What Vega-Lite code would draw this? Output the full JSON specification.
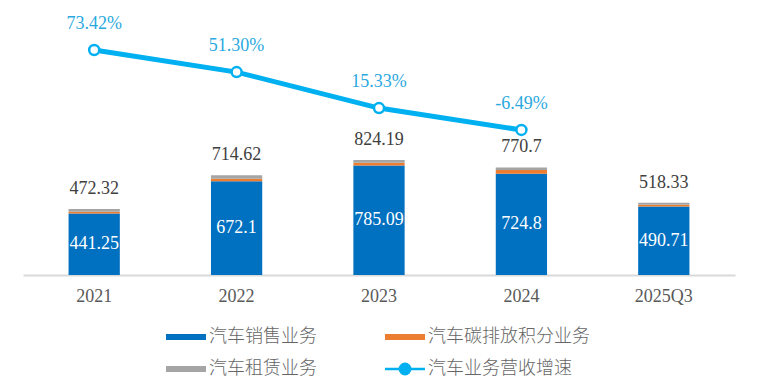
{
  "$schema": "https://vega.github.io/schema/vega-lite/v6.json",
  "width": 712,
  "height": 275,
  "padding": {"left": 23, "top": 0, "right": 24, "bottom": 10},
  "background": "white",
  "config": {"view": {"stroke": null}},
  "datasets": {
    "bars": [
      {"year": "2021", "series": "汽车销售业务", "k": 1, "value": 441.25},
      {"year": "2021", "series": "汽车碳排放积分业务", "k": 2, "value": 12.5},
      {"year": "2021", "series": "汽车租赁业务", "k": 3, "value": 18.57},
      {"year": "2022", "series": "汽车销售业务", "k": 1, "value": 672.1},
      {"year": "2022", "series": "汽车碳排放积分业务", "k": 2, "value": 18},
      {"year": "2022", "series": "汽车租赁业务", "k": 3, "value": 24.52},
      {"year": "2023", "series": "汽车销售业务", "k": 1, "value": 785.09},
      {"year": "2023", "series": "汽车碳排放积分业务", "k": 2, "value": 19.1},
      {"year": "2023", "series": "汽车租赁业务", "k": 3, "value": 20},
      {"year": "2024", "series": "汽车销售业务", "k": 1, "value": 724.8},
      {"year": "2024", "series": "汽车碳排放积分业务", "k": 2, "value": 28},
      {"year": "2024", "series": "汽车租赁业务", "k": 3, "value": 17.9},
      {"year": "2025Q3", "series": "汽车销售业务", "k": 1, "value": 490.71},
      {"year": "2025Q3", "series": "汽车碳排放积分业务", "k": 2, "value": 12},
      {"year": "2025Q3", "series": "汽车租赁业务", "k": 3, "value": 15.62}
    ],
    "totals": [
      {"year": "2021", "total": 472.32, "sales": 441.25},
      {"year": "2022", "total": 714.62, "sales": 672.1},
      {"year": "2023", "total": 824.19, "sales": 785.09},
      {"year": "2024", "total": 770.7, "sales": 724.8},
      {"year": "2025Q3", "total": 518.33, "sales": 490.71}
    ],
    "growth": [
      {"year": "2021", "growth": 73.42, "label": "73.42%"},
      {"year": "2022", "growth": 51.30, "label": "51.30%"},
      {"year": "2023", "growth": 15.33, "label": "15.33%"},
      {"year": "2024", "growth": -6.49, "label": "-6.49%"}
    ]
  },
  "encoding": {
    "x": {
      "field": "year",
      "type": "nominal",
      "sort": ["2021", "2022", "2023", "2024", "2025Q3"],
      "scale": {"domain": ["2021", "2022", "2023", "2024", "2025Q3"], "paddingInner": 0.64, "paddingOuter": 0.32},
      "axis": {
        "title": null,
        "labelAngle": 0,
        "ticks": false,
        "domainColor": "#D9D9D9",
        "domainWidth": 2,
        "labelFont": "Liberation Serif",
        "labelFontSize": 18,
        "labelColor": "#595959",
        "labelPadding": 12
      }
    }
  },
  "layer": [
    {
      "data": {"name": "bars"},
      "mark": {"type": "bar"},
      "encoding": {
        "y": {"field": "value", "type": "quantitative", "stack": "zero", "scale": {"domain": [0, 1970]}, "axis": null},
        "order": {"field": "k", "type": "quantitative", "sort": "ascending"},
        "color": {
          "field": "series",
          "type": "nominal",
          "scale": {
            "domain": ["汽车销售业务", "汽车碳排放积分业务", "汽车租赁业务", "汽车业务营收增速"],
            "range": ["#0070C0", "#ED7D31", "#A5A5A5", "#00B0F0"]
          },
          "legend": {
            "title": null,
            "orient": "none",
            "legendX": 154,
            "legendY": 328,
            "direction": "horizontal",
            "columns": 2,
            "labelFont": "Noto Sans CJK SC",
            "labelFontSize": 18,
            "labelFontWeight": 300,
            "labelColor": "#666666",
            "symbolSize": 1600,
            "labelOffset": 14,
            "columnPadding": 63,
            "rowPadding": 12,
            "labelLimit": 300,
            "padding": 0,
            "encode": {
              "symbols": {
                "update": {
                  "shape": {"signal": "datum.value === '汽车业务营收增速' ? 'M-1,0H-0.26M0.26,0H1M0.26,0A0.26,0.26 0 1,1 -0.26,0A0.26,0.26 0 1,1 0.26,0' : 'M-1,-0.15H1V0.15H-1Z'"},
                  "fill": {"signal": "datum.value === '汽车业务营收增速' ? '#ffffff' : scale('color', datum.value)"},
                  "stroke": {"signal": "datum.value === '汽车业务营收增速' ? '#00B0F0' : 'transparent'"},
                  "strokeWidth": {"signal": "datum.value === '汽车业务营收增速' ? 2.5 : 0"},
                  "opacity": {"value": 1}
                }
              }
            }
          }
        }
      }
    },
    {
      "data": {"name": "totals"},
      "mark": {"type": "text", "font": "Liberation Serif", "fontSize": 18, "color": "#404040", "baseline": "middle", "dy": -20},
      "encoding": {
        "y": {"field": "total", "type": "quantitative", "scale": {"domain": [0, 1970]}, "axis": null},
        "text": {"field": "total", "type": "nominal"}
      }
    },
    {
      "data": {"name": "totals"},
      "mark": {"type": "text", "font": "Liberation Serif", "fontSize": 18, "color": "#ffffff", "baseline": "middle"},
      "encoding": {
        "y": {"field": "sales", "type": "quantitative", "scale": {"domain": [0, 3940]}, "axis": null},
        "text": {"field": "sales", "type": "nominal"}
      }
    },
    {
      "data": {"name": "growth"},
      "mark": {"type": "line", "strokeWidth": 5},
      "encoding": {
        "y": {"field": "growth", "type": "quantitative", "scale": {"domain": [-151.58, 123.42]}, "axis": null},
        "color": {"datum": "汽车业务营收增速"}
      }
    },
    {
      "data": {"name": "growth"},
      "mark": {"type": "point", "filled": true, "fill": "#ffffff", "stroke": "#00B0F0", "strokeWidth": 2.5, "size": 100, "opacity": 1},
      "encoding": {
        "y": {"field": "growth", "type": "quantitative", "scale": {"domain": [-151.58, 123.42]}, "axis": null}
      }
    },
    {
      "data": {"name": "growth"},
      "mark": {"type": "text", "font": "Liberation Serif", "fontSize": 18, "color": "#2AA9E0", "baseline": "middle", "dy": -26},
      "encoding": {
        "y": {"field": "growth", "type": "quantitative", "scale": {"domain": [-151.58, 123.42]}, "axis": null},
        "text": {"field": "label", "type": "nominal"}
      }
    }
  ],
  "resolve": {"scale": {"y": "independent"}}
}
